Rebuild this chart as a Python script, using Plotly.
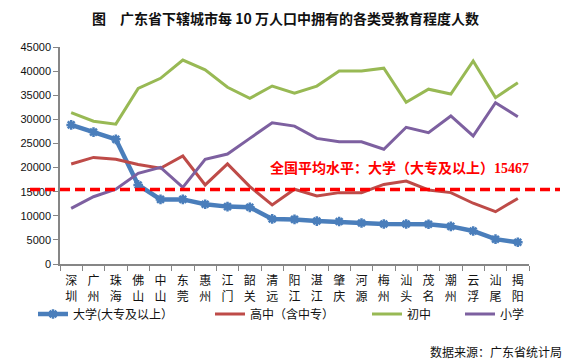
import plotly.graph_objects as go

cities = ["深圳", "广州", "珠海", "佛山", "中山", "东莞", "惠州", "江门", "韶关", "清远", "阳江",
          "湛江", "肇庆", "河源", "梅州", "汕头", "茂名", "潮州", "云浮", "汕尾", "揭阳"]
university = [28850, 27350, 25850, 16400, 13400, 13400, 12400, 11900, 11750, 9350, 9250,
              8900, 8800, 8500, 8300, 8300, 8250, 7800, 6850, 5150, 4500]
highschool = [20750, 22100, 21700, 20650, 19850, 22400, 16400, 20750, 16050, 12250, 15500,
              14100, 14800, 14800, 16500, 17200, 15350, 14800, 12600, 10850, 13600]
junior = [31400, 29600, 29000, 36400, 38500, 42300, 40250, 36650, 34350, 36900, 35400,
          36900, 40000, 40000, 40600, 33550, 36250, 35250, 42100, 34500, 37600]
primary = [11550, 13950, 15500, 18800, 20050, 15900, 21700, 22800, 26050, 29300, 28600,
           26050, 25350, 25350, 23800, 28350, 27250, 30700, 26550, 33450, 30550]
series_names = ["大学(大专及以上）", "高中（含中专）", "初中", "小学"]
national_avg = 15467
y_ticks = [0, 5000, 10000, 15000, 20000, 25000, 30000, 35000, 40000, 45000]

title = "图　广东省下辖城市每 10 万人口中拥有的各类受教育程度人数"
source = "数据来源：广东省统计局"

colors = ["#4A7EBB", "#BE4B48", "#98B954", "#7D60A0"]
font_cjk = "Noto Sans CJK SC"

# page offset (body margin) compensation
O = 8
PAGE_W, PAGE_H = 571, 363
W, H = PAGE_W - O, PAGE_H - O
L, R, T, B = 60 - O, 42, 47 - O, 99
pw, ph = W - L - R, H - T - B

def px_x(x):  # page pixel -> paper
    return (x - O - L) / pw

def px_y(y):
    return (H - B - (y - O)) / ph

fig = go.Figure()
data = [university, highschool, junior, primary]
legend_text_x = [75, 252, 409, 502]
for i, (name, vals) in enumerate(zip(series_names, data)):
    kw = dict(x=cities, y=vals, name=name, legend="legend" if i == 0 else f"legend{i+1}")
    if i == 0:
        fig.add_trace(go.Scatter(mode="lines+markers",
                                 line=dict(color=colors[i], width=4.5),
                                 marker=dict(symbol="asterisk-open", size=8, color=colors[i],
                                             line=dict(color=colors[i], width=2.5)),
                                 **kw))
    else:
        fig.add_trace(go.Scatter(mode="lines", line=dict(color=colors[i], width=3), **kw))

# national average dashed line
fig.add_shape(type="line", xref="paper", yref="y", x0=px_x(30), x1=px_x(560),
              y0=national_avg, y1=national_avg,
              line=dict(color="#FF0000", width=3.5, dash="10px,5px"))
fig.add_annotation(xref="paper", yref="paper", x=px_x(268), y=px_y(167), xanchor="left",
                   yanchor="middle", showarrow=False,
                   text="<b>全国平均水平：大学（大专及以上）</b><span style=\"font-family:'Liberation Serif'\"><b>"
                        + str(national_avg) + "</b></span>",
                   font=dict(family=font_cjk, size=14, color="#FF0000"))

fig.add_annotation(xref="paper", yref="paper", x=px_x(564), y=px_y(351), xanchor="right",
                   yanchor="middle", showarrow=False, text=source,
                   font=dict(family=font_cjk, size=12, color="#111111"))

layout_legends = {}
for i in range(4):
    key = "legend" if i == 0 else f"legend{i+1}"
    layout_legends[key] = dict(x=px_x(legend_text_x[i] - 42), y=px_y(314), xanchor="left",
                               yanchor="middle", orientation="h", bgcolor="rgba(0,0,0,0)",
                               font=dict(family=font_cjk, size=12, color="#111111"),
                               itemwidth=30)

fig.update_layout(
    width=W, height=H,
    margin=dict(l=L, r=R, t=T, b=B, autoexpand=False),
    paper_bgcolor="white", plot_bgcolor="white",
    title=dict(text="<b>" + title + "</b>", x=(PAGE_W / 2 - O) / W, xanchor="center",
               y=1 - (19 - O) / H, yanchor="middle",
               font=dict(family=font_cjk, size=14, color="#111111")),
    showlegend=True,
    **layout_legends,
)
fig.update_xaxes(type="category", range=[-0.5, len(cities) - 0.5], automargin=False,
                 tickvals=cities, ticktext=["<br>".join(list(c)) for c in cities],
                 tickson="boundaries", ticks="outside", ticklen=5, tickcolor="#868686",
                 ticklabelstandoff=5,
                 showline=True, linecolor="#868686", linewidth=1.5, showgrid=False,
                 tickfont=dict(family=font_cjk, size=12, color="#111111"), tickangle=0)
fig.update_yaxes(range=[0, 45000], tickvals=y_ticks, ticktext=[str(v) for v in y_ticks],
                 ticks="outside", ticklen=5, automargin=False,
                 tickcolor="#868686", showline=True, linecolor="#868686", linewidth=1.5,
                 showgrid=False, zeroline=False,
                 tickfont=dict(family="Liberation Sans", size=11, color="#111111"))

fig.write_html("out.html")
